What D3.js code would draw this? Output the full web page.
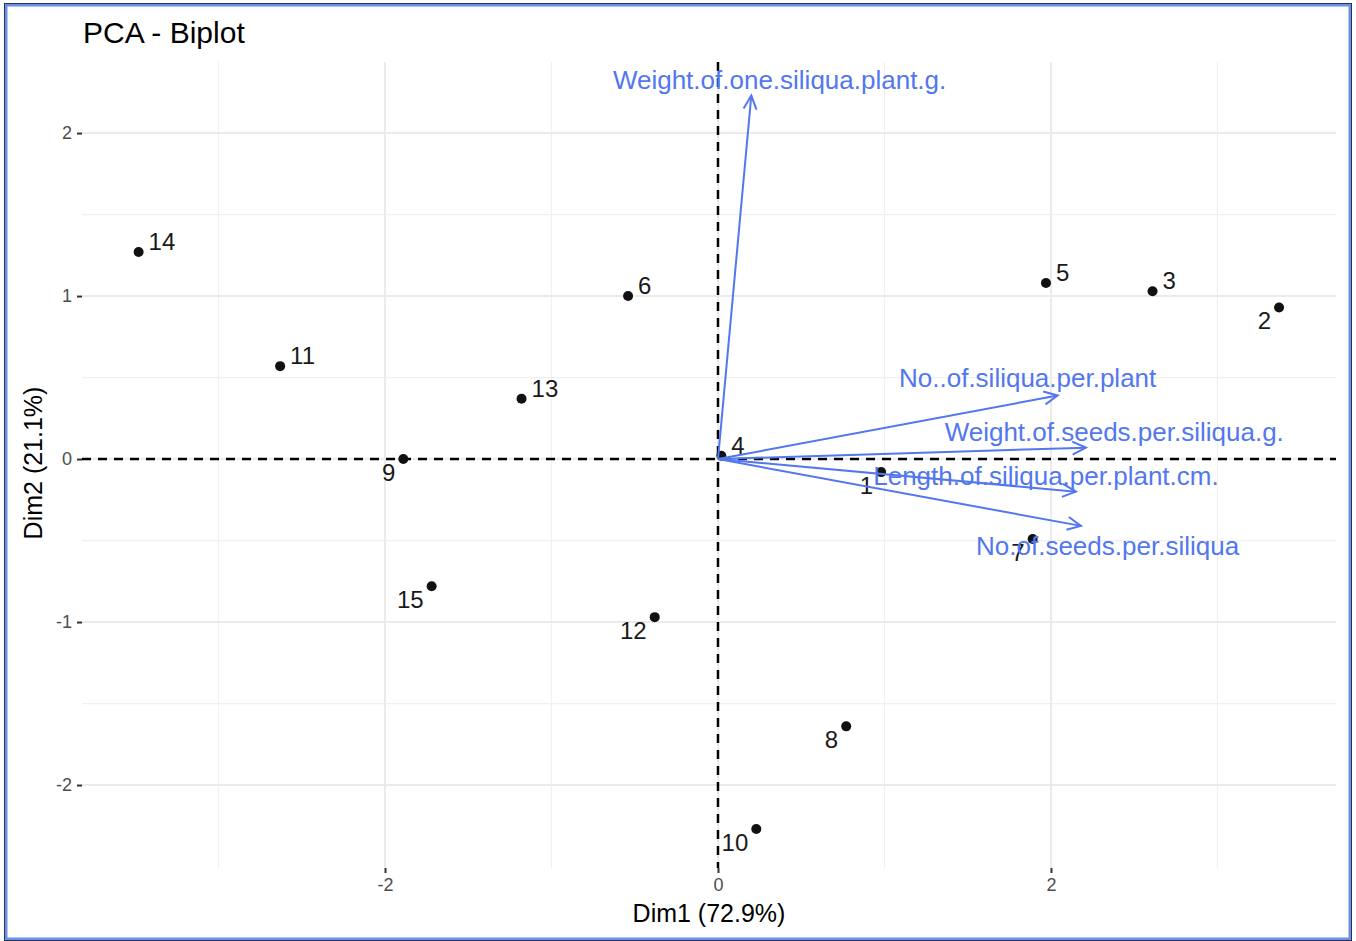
<!DOCTYPE html>
<html><head><meta charset="utf-8">
<script src="https://cdn.jsdelivr.net/npm/d3@7"></script>
<style>body{margin:0;background:#fff;} svg{display:block;font-family:"Liberation Sans",Arial,sans-serif;}</style>
</head><body>
<svg id="c" width="1356" height="941"></svg>
<script>
// ---- data ----
const indNames = ["1","2","3","4","5","6","7","8","9","10","11","12","13","14","15"];
const indDim1 = [0.98, 3.37, 2.61, 0.02, 1.97, -0.54, 1.89, 0.77, -1.89, 0.23, -2.63, -0.38, -1.18, -3.48, -1.72];
const indDim2 = [-0.08, 0.93, 1.03, 0.02, 1.08, 1.00, -0.49, -1.64, 0.00, -2.27, 0.57, -0.97, 0.37, 1.27, -0.78];
// label offsets direction: 1 = up-right, -1 = down-left
const indLabelSide = [-1, -1, 1, 1, 1, 1, -1, -1, -1, -1, 1, -1, 1, 1, -1];

const varNames = ["Weight.of.one.siliqua.plant.g.", "No..of.siliqua.per.plant", "Weight.of.seeds.per.siliqua.g.", "Length.of.siliqua.per.plant.cm.", "No.of.seeds.per.siliqua"];
const varDim1 = [0.20, 2.04, 2.21, 2.15, 2.18];
const varDim2 = [2.23, 0.39, 0.07, -0.20, -0.41];
const varLabelDim1 = [0.37, 1.86, 2.38, 1.97, 2.34];
const varLabelDim2 = [2.325, 0.50, 0.166, -0.104, -0.534];

const xTicks = [-2, 0, 2];
const yTicks = [-2, -1, 0, 1, 2];
const xMinor = [-3, -1, 1, 3];
const yMinor = [-1.5, -0.5, 0.5, 1.5];

// ---- layout ----
const svg = d3.select("#c");
const P = {left: 82, right: 1336, top: 62, bottom: 868};
const x = d3.scaleLinear().domain([-3.82, 3.712]).range([P.left, P.right]);
const y = d3.scaleLinear().domain([-2.509, 2.436]).range([P.bottom, P.top]);

// border frame
svg.append("rect").attr("x", 6).attr("y", 5).attr("width", 1344).attr("height", 934)
  .attr("fill", "none").attr("stroke", "#6b8fe6").attr("stroke-width", 3);
svg.append("rect").attr("x", 4.5).attr("y", 3.5).attr("width", 1347).attr("height", 937)
  .attr("fill", "none").attr("stroke", "#2a3550").attr("stroke-width", 1);

const grid = svg.append("g");
xMinor.forEach(v => grid.append("line").attr("x1", x(v)).attr("x2", x(v)).attr("y1", P.top).attr("y2", P.bottom).attr("stroke", "#f0f0f0").attr("stroke-width", 1.2));
yMinor.forEach(v => grid.append("line").attr("y1", y(v)).attr("y2", y(v)).attr("x1", P.left).attr("x2", P.right).attr("stroke", "#f0f0f0").attr("stroke-width", 1.2));
xTicks.forEach(v => grid.append("line").attr("x1", x(v)).attr("x2", x(v)).attr("y1", P.top).attr("y2", P.bottom).attr("stroke", "#ebebeb").attr("stroke-width", 2));
yTicks.forEach(v => grid.append("line").attr("y1", y(v)).attr("y2", y(v)).attr("x1", P.left).attr("x2", P.right).attr("stroke", "#ebebeb").attr("stroke-width", 2));

// axes
const xAxis = d3.axisBottom(x).tickValues(xTicks).tickSize(5).tickPadding(5).tickFormat(d => String(d));
const gx = svg.append("g").attr("transform", `translate(0,${P.bottom})`).call(xAxis);
gx.select(".domain").remove();
gx.selectAll(".tick line").attr("stroke", "#333").attr("stroke-width", 2);
gx.selectAll(".tick text").attr("fill", "#4d4d4d").style("font-size", "18px").style("font-family", "'Liberation Sans Narrow','Liberation Sans',sans-serif");

const yAxis = d3.axisLeft(y).tickValues(yTicks).tickSize(5).tickPadding(5).tickFormat(d => String(d));
const gy = svg.append("g").attr("transform", `translate(${P.left},0)`).call(yAxis);
gy.select(".domain").remove();
gy.selectAll(".tick line").attr("stroke", "#333").attr("stroke-width", 2);
gy.selectAll(".tick text").attr("fill", "#4d4d4d").style("font-size", "18px").style("font-family", "'Liberation Sans Narrow','Liberation Sans',sans-serif");

// dashed zero lines
svg.append("line").attr("x1", P.left).attr("x2", P.right).attr("y1", y(0)).attr("y2", y(0))
  .attr("stroke", "#000").attr("stroke-width", 2.5).attr("stroke-dasharray", "9,7");
svg.append("line").attr("x1", x(0)).attr("x2", x(0)).attr("y1", P.top).attr("y2", P.bottom)
  .attr("stroke", "#000").attr("stroke-width", 2.5).attr("stroke-dasharray", "9,7");

// individuals
const ind = indNames.map((n, i) => ({n, d1: indDim1[i], d2: indDim2[i], s: indLabelSide[i]}));
svg.append("g").selectAll("circle").data(ind).join("circle")
  .attr("cx", d => x(d.d1)).attr("cy", d => y(d.d2)).attr("r", 5).attr("fill", "#111");
svg.append("g").selectAll("text").data(ind).join("text")
  .attr("x", d => x(d.d1) + (d.s > 0 ? 10 : -8))
  .attr("y", d => y(d.d2) + (d.s > 0 ? -2 : 22))
  .attr("text-anchor", d => d.s > 0 ? "start" : "end")
  .style("font-size", "24px").attr("fill", "#1a1a1a").text(d => d.n);

// variable arrows
const blue = "#5277ee";
const vars = varNames.map((n, i) => ({n, d1: varDim1[i], d2: varDim2[i], l1: varLabelDim1[i], l2: varLabelDim2[i]}));
const ag = svg.append("g");
vars.forEach(v => {
  const x0 = x(0), y0 = y(0), x1 = x(v.d1), y1 = y(v.d2);
  ag.append("line").attr("x1", x0).attr("y1", y0).attr("x2", x1).attr("y2", y1)
    .attr("stroke", blue).attr("stroke-width", 2);
  const ang = Math.atan2(y1 - y0, x1 - x0);
  const L = 15, a = Math.PI / 7;
  const p = [[x1 - L * Math.cos(ang - a), y1 - L * Math.sin(ang - a)], [x1, y1], [x1 - L * Math.cos(ang + a), y1 - L * Math.sin(ang + a)]];
  ag.append("path").attr("d", d3.line()(p)).attr("fill", "none").attr("stroke", blue).attr("stroke-width", 2);
});
svg.append("g").selectAll("text").data(vars).join("text")
  .attr("x", d => x(d.l1)).attr("y", d => y(d.l2)).attr("text-anchor", "middle").attr("dy", "0.35em")
  .style("font-size", "26px").attr("fill", blue).text(d => d.n);

// titles
svg.append("text").attr("x", 83).attr("y", 43).style("font-size", "30px").attr("fill", "#000").text("PCA - Biplot");
svg.append("text").attr("x", (P.left + P.right) / 2).attr("y", 922).attr("text-anchor", "middle").style("font-size", "25px").attr("fill", "#000").text("Dim1 (72.9%)");
svg.append("text").attr("transform", `translate(42,${(P.top + P.bottom) / 2 - 2}) rotate(-90)`).attr("text-anchor", "middle").style("font-size", "25px").attr("fill", "#000").text("Dim2 (21.1%)");
</script>
</body></html>
